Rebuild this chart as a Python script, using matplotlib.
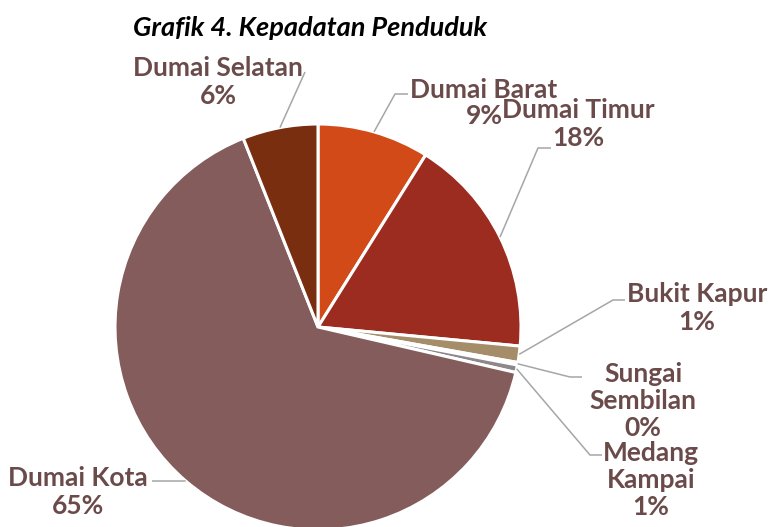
import matplotlib
matplotlib.use("Agg")
import matplotlib.pyplot as plt
import numpy as np

# data: population density share per kecamatan (clockwise from 12 o'clock)
districts = ["Dumai Barat", "Dumai Timur", "Bukit Kapur", "Sungai Sembilan",
             "Medang Kampai", "Dumai Kota", "Dumai Selatan"]
label_names = ["Dumai Barat", "Dumai Timur", "Bukit Kapur", "Sungai\nSembilan",
               "Medang\nKampai", "Dumai Kota", "Dumai Selatan"]
shares = [8.9, 17.6, 1.3, 0.2, 0.6, 65.4, 6.0]
colors = ["#D24A18", "#9C2C20", "#A58D6A", "#D8D2D2", "#8E878C", "#845C5B", "#7A2E10"]

title = "Grafik 4. Kepadatan Penduduk"

# layout in pixel coords (y measured from top): label centre, elbow, leader end x
W, H = 776, 527
label_xy = [(484, 103), (578, 124), (697, 308), (643, 401),
            (651, 480), (78, 492), (218, 82)]
elbow_xy = [(395, 94), (538, 148), (613, 300), (570, 377),
            (590, 455), (184, 481), (305, 72)]
end_x = [408, 551, 625, 582, 602, 152, 305]

cx, cy, R = 318, 327, 203
text_color = "#6B4A4A"
lead_color = "#A6A6A6"

def fy(y):
    return H - y

fig = plt.figure(figsize=(W / 100, H / 100), dpi=100)
ax = fig.add_axes([0, 0, 1, 1])

wedges, _ = ax.pie(shares, colors=colors, startangle=90, counterclock=False,
                   center=(cx, fy(cy)), radius=R,
                   wedgeprops=dict(edgecolor="white", linewidth=2.2))

ax.set_xlim(0, W)
ax.set_ylim(0, H)
ax.set_aspect("equal")
ax.axis("off")

for w, name, share, (lx, ly), (ex, ey), x_end in zip(wedges, label_names, shares,
                                                    label_xy, elbow_xy, end_x):
    mid = np.deg2rad((w.theta1 + w.theta2) / 2)
    sx = cx + R * np.cos(mid)
    sy = fy(cy) + R * np.sin(mid)
    ax.plot([sx, ex, x_end], [sy, fy(ey), fy(ey)], color=lead_color, lw=1.1,
            solid_capstyle="butt")
    pct = share / sum(shares) * 100
    ax.text(lx, fy(ly), f"{name}\n{pct:.0f}%", ha="center", va="center",
            color=text_color, fontsize=19, fontweight="bold", family="Lato",
            linespacing=1.15)

ax.text(310, fy(28), title, ha="center", va="center", color="black",
        fontsize=19.5, fontweight="bold", fontstyle="italic", family="Lato")

fig.savefig("out.png", dpi=100)
